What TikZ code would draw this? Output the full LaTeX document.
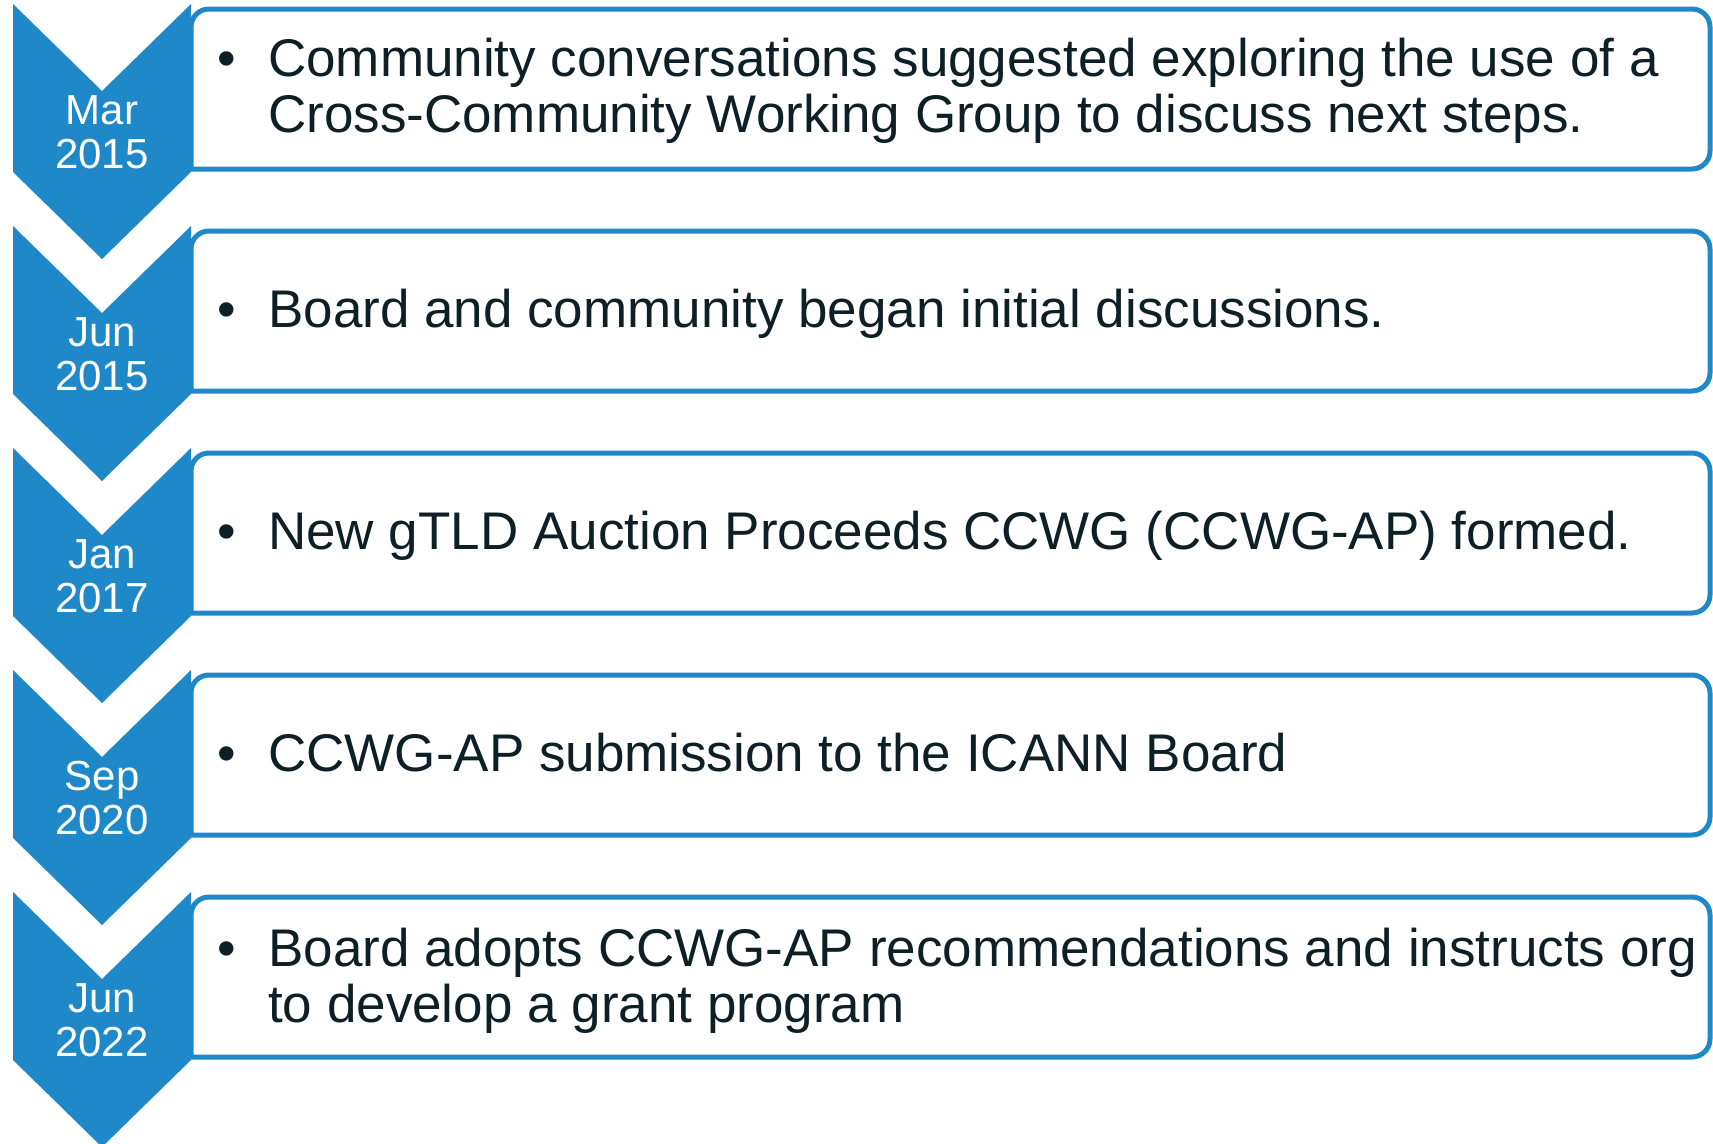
\documentclass[tikz,border=0pt]{standalone}
\usepackage{fontspec}
\setmainfont{Liberation Sans}
\definecolor{tlblue}{RGB}{30,136,200}
\definecolor{tlink}{RGB}{14,31,38}
\tikzset{
  chev/.style={fill=tlblue, draw=none},
  entrybox/.style={draw=tlblue, line width=5pt, rounded corners=18pt},
  datelbl/.style={text=white, font=\fontsize{42}{44}\selectfont, align=center, inner sep=0pt, anchor=base},
  entrytxt/.style={text=tlink, font=\fontsize{53}{56}\selectfont, align=left, inner sep=0pt, anchor=base west},
  dot/.style={text=tlink, font=\fontsize{53}{56}\selectfont, inner sep=0pt, anchor=base},
}

\begin{document}
\begin{tikzpicture}[x=1pt,y=-1pt]
  \useasboundingbox (0,0) rectangle (1713,1143);
  \clip (0,0) rectangle (1713,1143);
  % one chevron and one box per step
  \foreach \i/\mon/\yr/\fy/\ly/\txt in {
      0/Mar/2015/72/128/{Community conversations suggested exploring the use of a\\Cross-Community Working Group to discuss next steps.},
      1/Jun/2015/101/101/{Board and community began initial discussions.},
      2/Jan/2017/101/101/{New gTLD Auction Proceeds CCWG (CCWG-AP) formed.},
      3/Sep/2020/101/101/{CCWG-AP submission to the ICANN Board},
      4/Jun/2022/74/130/{Board adopts CCWG-AP recommendations and instructs org\\to develop a grant program}}{
    \pgfmathsetmacro{\t}{4+222*\i}
    \draw[entrybox] (191,\t+165) -- (191,\t+5) -- (1710,\t+5) -- (1710,\t+165) -- (191,\t+165);
    \fill[chev] (13,\t) -- (102,\t+87) -- (191,\t) -- (191,\t+168) -- (102,\t+255) -- (13,\t+168) -- cycle;
    \node[datelbl] (d\i) at (102,\t+164) {\mon\\\yr};
    \node[dot] (b\i) at (227,\t+\fy) {•};
    \node[entrytxt] (e\i) at (268,\t+\ly) {\txt};
  }
\end{tikzpicture}
\end{document}
